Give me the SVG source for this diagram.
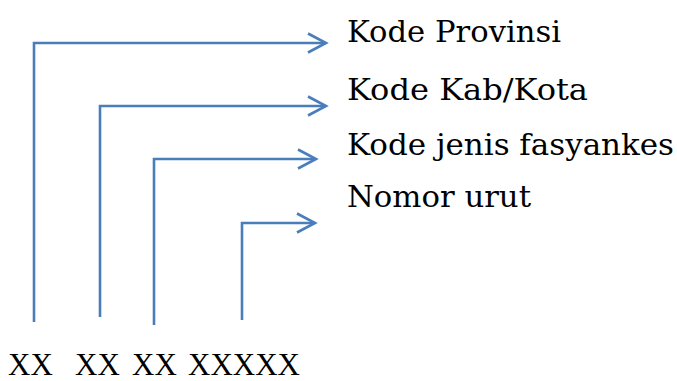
<svg xmlns="http://www.w3.org/2000/svg" width="677" height="381" viewBox="0 0 677 381">
<style>
.conn{fill:none;stroke:#4A7EBB;stroke-width:2.6;stroke-linejoin:miter}
.lbl{font-family:"DejaVu Serif",serif;font-size:30px;fill:#000}
.code{font-family:"Liberation Serif","Times New Roman",serif;font-size:31px;fill:#000}
</style>
<defs>
<marker id="arr" markerUnits="userSpaceOnUse" markerWidth="24" markerHeight="24" viewBox="-20 -12 24 24" refX="0" refY="0" orient="auto">
<path d="M -18 -9.5 L 0 0 L -18 9.5" fill="none" stroke="#4A7EBB" stroke-width="2.6"/>
</marker>
</defs>
<rect width="677" height="381" fill="#fff"/>
<g id="connectors">
<path class="conn" d="M 34 322 L 34 43 L 326 43" marker-end="url(#arr)"/>
<path class="conn" d="M 100 317 L 100 106 L 326 106" marker-end="url(#arr)"/>
<path class="conn" d="M 154 325 L 154 159 L 316 159" marker-end="url(#arr)"/>
<path class="conn" d="M 242 320 L 242 223 L 315 223" marker-end="url(#arr)"/>
</g>
<g id="node-provinsi"><text class="lbl" x="347" y="42" textLength="214" lengthAdjust="spacingAndGlyphs">Kode Provinsi</text></g>
<g id="node-kabkota"><text class="lbl" x="347" y="100" textLength="241" lengthAdjust="spacingAndGlyphs">Kode Kab/Kota</text></g>
<g id="node-jenis"><text class="lbl" x="347" y="155" textLength="327" lengthAdjust="spacingAndGlyphs">Kode jenis fasyankes</text></g>
<g id="node-urut"><text class="lbl" x="347" y="207" textLength="184" lengthAdjust="spacingAndGlyphs">Nomor urut</text></g>
<g id="node-code"><text class="code" y="375"><tspan x="8">XX</tspan><tspan x="75">XX</tspan><tspan x="132">XX</tspan><tspan x="188">XXXXX</tspan></text></g>
</svg>
